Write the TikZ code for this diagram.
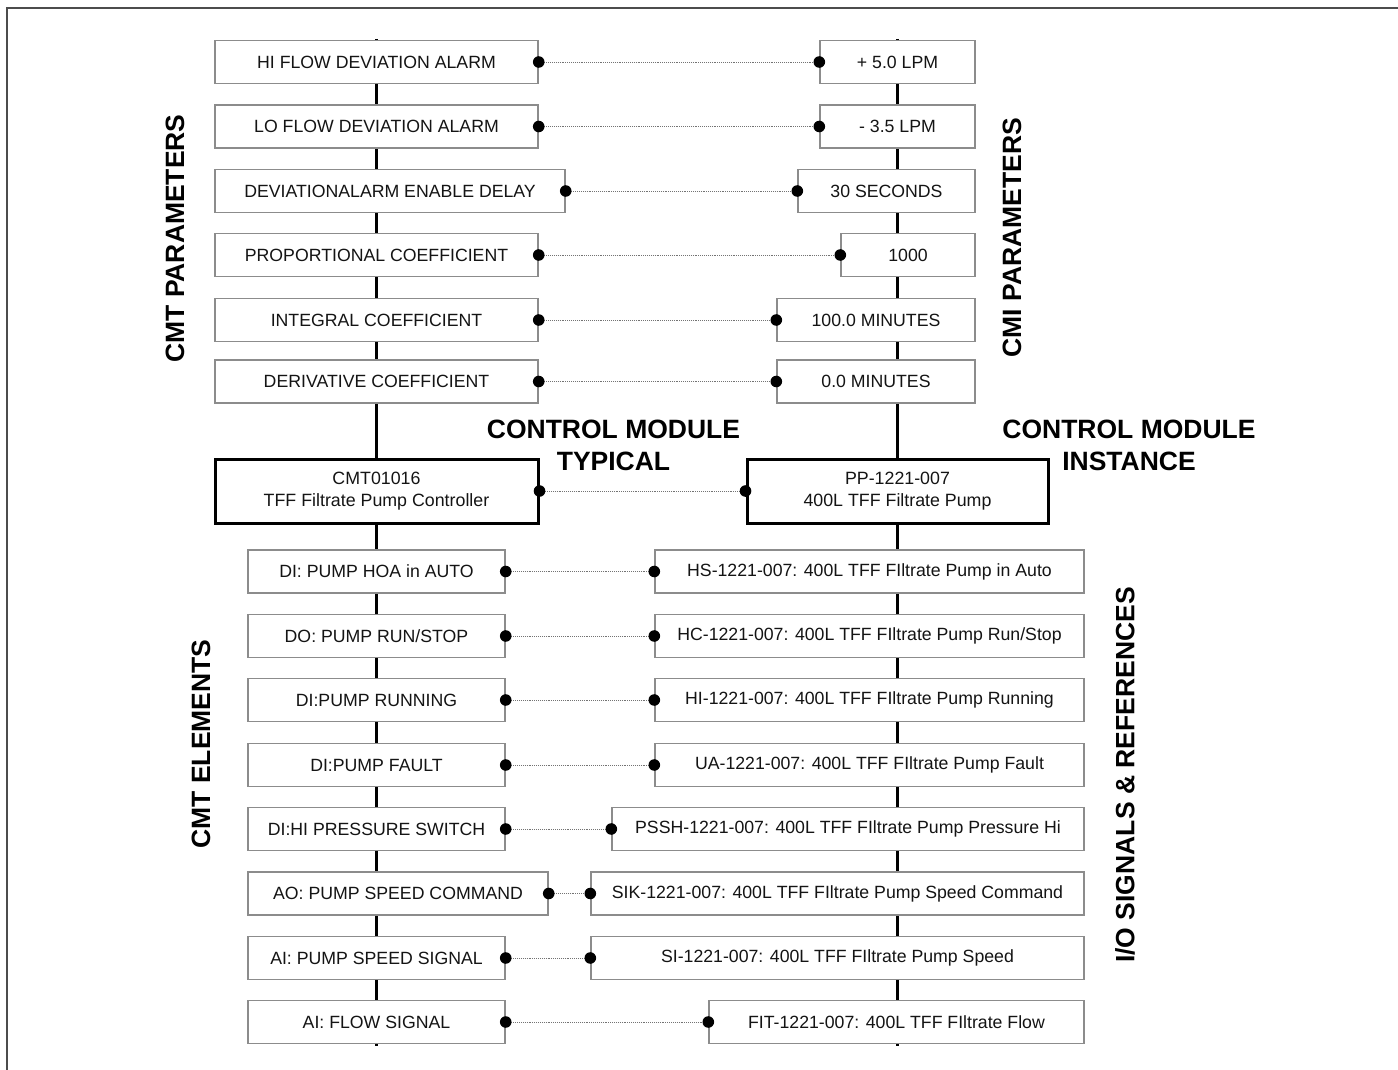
\documentclass[tikz,border=0pt]{standalone}
\usepackage{fontspec}
\setmainfont{Liberation Sans}
\begin{document}
\begin{tikzpicture}[x=1pt,y=-1pt,
  box/.style={draw=boxgray,line width=1.4pt,fill=white,inner sep=0pt,minimum height=43pt,text=black!92,font=\fontsize{17.7}{20}\selectfont},
  cmbox/.style={draw=black,line width=3pt,fill=white,inner sep=0pt,minimum height=64pt,align=center,text=black!92,font=\fontsize{17.8}{22}\selectfont},
  link/.style={draw=black!55,line width=0.9pt,densely dotted},
  spine/.style={draw=black,line width=3pt},
  dotm/.style={fill=black,draw=none},
  biglabel/.style={font=\fontsize{26.5}{32}\selectfont\bfseries,align=center,inner sep=0pt}]
\definecolor{boxgray}{HTML}{8C8C8C}
\useasboundingbox (0,0) rectangle (1398,1070);
% frame
\draw[line width=2pt,draw=black!70] (6.5,1070) -- (6.5,8.5) -- (1398,8.5);
% spines
\coordinate (lt) at (376.5,39); \coordinate (lb) at (376.5,1046);
\coordinate (rt) at (897.5,39); \coordinate (rb) at (897.5,1046);
\draw[spine] (lt) -- (lb);
\draw[spine] (rt) -- (rb);
% top left boxes
\node[box,minimum width=323pt] (tl1) at (376.5,62) {HI FLOW DEVIATION ALARM};
\node[box,minimum width=323pt] (tl2) at (376.5,126.5) {LO FLOW DEVIATION ALARM};
\node[box,minimum width=350pt] (tl3) at (390,191) {DEVIATIONALARM ENABLE DELAY};
\node[box,minimum width=323pt] (tl4) at (376.5,255) {PROPORTIONAL COEFFICIENT};
\node[box,minimum width=323pt] (tl5) at (376.5,320) {INTEGRAL COEFFICIENT};
\node[box,minimum width=323pt] (tl6) at (376.5,381.5) {DERIVATIVE COEFFICIENT};
% top right boxes
\node[box,minimum width=155pt] (tr1) at (897.5,62) {+ 5.0 LPM};
\node[box,minimum width=155pt] (tr2) at (897.5,126.5) {- 3.5 LPM};
\node[box,minimum width=177pt] (tr3) at (886.5,191) {30 SECONDS};
\node[box,minimum width=134pt] (tr4) at (908,255) {1000};
\node[box,minimum width=198pt] (tr5) at (876,320) {100.0 MINUTES};
\node[box,minimum width=198pt] (tr6) at (876,381.5) {0.0 MINUTES};
% control module boxes
\node[cmbox,minimum width=323pt] (cmt) at (376.5,491) {CMT01016\\TFF Filtrate Pump Controller};
\node[cmbox,minimum width=301pt] (cmi) at (897.5,491) {PP-1221-007\\400L TFF Filtrate Pump};
% bottom left boxes
\node[box,minimum width=257pt] (bl1) at (376.5,571.5) {DI: PUMP HOA in AUTO};
\node[box,minimum width=257pt] (bl2) at (376.5,636) {DO: PUMP RUN/STOP};
\node[box,minimum width=257pt] (bl3) at (376.5,700) {DI:PUMP RUNNING};
\node[box,minimum width=257pt] (bl4) at (376.5,765) {DI:PUMP FAULT};
\node[box,minimum width=257pt] (bl5) at (376.5,829) {DI:HI PRESSURE SWITCH};
\node[box,minimum width=300pt] (bl6) at (398,893.5) {AO: PUMP SPEED COMMAND};
\node[box,minimum width=257pt] (bl7) at (376.5,958) {AI: PUMP SPEED SIGNAL};
\node[box,minimum width=257pt] (bl8) at (376.5,1022) {AI: FLOW SIGNAL};
% bottom right boxes
\node[box,minimum width=429pt] (br1) at (869.5,571.5) {HS-1221-007: 400L TFF FIltrate Pump in Auto};
\node[box,minimum width=429pt] (br2) at (869.5,636) {HC-1221-007: 400L TFF FIltrate Pump Run/Stop};
\node[box,minimum width=429pt] (br3) at (869.5,700) {HI-1221-007: 400L TFF FIltrate Pump Running};
\node[box,minimum width=429pt] (br4) at (869.5,765) {UA-1221-007: 400L TFF FIltrate Pump Fault};
\node[box,minimum width=472pt] (br5) at (848,829) {PSSH-1221-007: 400L TFF FIltrate Pump Pressure Hi};
\node[box,minimum width=493pt] (br6) at (837.5,893.5) {SIK-1221-007: 400L TFF FIltrate Pump Speed Command};
\node[box,minimum width=493pt] (br7) at (837.5,958) {SI-1221-007: 400L TFF FIltrate Pump Speed};
\node[box,minimum width=375pt] (br8) at (896.5,1022) {FIT-1221-007: 400L TFF FIltrate Flow};
% links
\foreach \a/\b in {tl1/tr1,tl2/tr2,tl3/tr3,tl4/tr4,tl5/tr5,tl6/tr6,cmt/cmi,bl1/br1,bl2/br2,bl3/br3,bl4/br4,bl5/br5,bl6/br6,bl7/br7,bl8/br8}{
  \draw[link] (\a.east) -- (\b.west);
  \fill[dotm] (\a.east) circle (5.8pt);
  \fill[dotm] (\b.west) circle (5.8pt);
}
% labels
\node[biglabel] (lab1) at (613.5,445) {CONTROL MODULE\\TYPICAL};
\node[biglabel] (lab2) at (1129,445) {CONTROL MODULE\\INSTANCE};
\node[biglabel,rotate=90] (lab3) at (175,238.5) {CMT PARAMETERS};
\node[biglabel,rotate=90] (lab4) at (1012,237.5) {CMI PARAMETERS};
\node[biglabel,rotate=90] (lab5) at (201,744) {CMT ELEMENTS};
\node[biglabel,rotate=90] (lab6) at (1125,775) {I/O SIGNALS \& REFERENCES};
\end{tikzpicture}
\end{document}
